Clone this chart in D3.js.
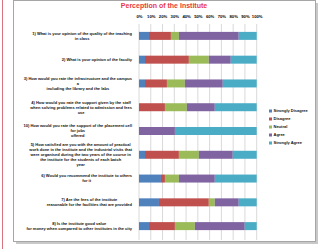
<!DOCTYPE html>
<html>
<head>
<meta charset="utf-8">
<script src="https://cdn.jsdelivr.net/npm/d3@7"></script>
<style>
  html, body { margin: 0; padding: 0; background: #fff; }
  svg { display: block; font-family: "Liberation Sans", Arial, sans-serif; }
</style>
</head>
<body>
<div id="chart"></div>
<script>
// questions (already wrapped the way the sheet shows them)
const questions = [
  ["1) What is your opinion of the quality of the teaching", "in class"],
  ["2) What is your opinion of the faculty"],
  ["3) How would you rate the infrastructure and the campus", "a", "including the library and the labs"],
  ["4) How would you rate the support given by the staff", "when solving problems related to admission and fees", "use"],
  ["10) How would you rate the support of the placement cell", "for jobs", "offered"],
  ["5) How satisfied are you with the amount of practical", "work done in the institute and the industrial visits that", "were organised during the two years of the course in", "the institute for the students of each batch", "year"],
  ["6) Would you recommend the institute to others", "for it"],
  ["7) Are the fees of the institute", "reasonable for the facilities that are provided"],
  ["8) Is the institute good value", "for money when compared to other institutes in the city"]
];

const levels = ["Strongly Disagree", "Disagree", "Neutral", "Agree", "Strongly Agree"];

// number of answers per question (59 students)
const stronglyDisagree = [5, 3, 3, 0, 0, 3, 11, 10, 5];
const disagree         = [11, 22, 11, 13, 0, 17, 2, 25, 13];
const neutral          = [4, 10, 9, 11, 0, 10, 7, 3, 10];
const agree            = [30, 11, 19, 14, 18, 17, 18, 12, 25];
const stronglyAgree    = [9, 13, 17, 21, 41, 12, 21, 9, 6];

const tickValues = [0, 0.1, 0.2, 0.3, 0.4, 0.5, 0.6, 0.7, 0.8, 0.9, 1];
const tickLabels = ["0%", "10%", "20%", "30%", "40%", "50%", "60%", "70%", "80%", "90%", "100%"];

const colors = ["#4F81BD", "#C0504D", "#9BBB59", "#8064A2", "#4BACC6"];

const width = 322, height = 249;

const rows = questions.map((q, i) => ({
  idx: i,
  "Strongly Disagree": stronglyDisagree[i],
  "Disagree": disagree[i],
  "Neutral": neutral[i],
  "Agree": agree[i],
  "Strongly Agree": stronglyAgree[i]
}));

const series = d3.stack()
  .keys(levels)
  .offset(d3.stackOffsetExpand)(rows);

const svg = d3.select("#chart")
  .append("svg")
  .attr("width", width)
  .attr("height", height);

// page line on the left
svg.append("line")
  .attr("x1", 2.5).attr("x2", 2.5)
  .attr("y1", 0).attr("y2", height)
  .attr("stroke", "#D9737D")
  .attr("stroke-width", 1);

// chart frame with shadow
svg.append("rect")
  .attr("x", 16).attr("y", 3)
  .attr("width", 302).attr("height", 241)
  .attr("fill", "#C8C8C8");
svg.append("rect")
  .attr("x", 13.5).attr("y", 0.5)
  .attr("width", 302).attr("height", 241)
  .attr("fill", "#fff")
  .attr("stroke", "#A6A6A6")
  .attr("stroke-width", 1);

const x = d3.scaleLinear().domain([0, 1]).range([139, 256.7]);
const y = d3.scaleBand()
  .domain(d3.range(questions.length))
  .range([24, 238])
  .paddingInner(0.664)
  .paddingOuter(0.332);

// gridlines
svg.append("g")
  .selectAll("line")
  .data(tickValues)
  .enter()
  .append("line")
  .attr("x1", d => x(d)).attr("x2", d => x(d))
  .attr("y1", 24).attr("y2", 240)
  .attr("stroke", "#D9D9D9")
  .attr("stroke-width", 1);

// top axis labels
const axis = svg.append("g")
  .attr("transform", "translate(0,18)")
  .call(d3.axisTop(x)
    .tickValues(tickValues)
    .tickFormat((d, i) => tickLabels[i])
    .tickSize(0)
    .tickPadding(0));
axis.select(".domain").remove();
axis.selectAll("text")
  .attr("font-size", 4.2)
  .attr("font-weight", "bold")
  .attr("fill", "#000")
  .attr("font-family", "Liberation Sans, Arial, sans-serif");

// bars
svg.append("g")
  .selectAll("g")
  .data(series)
  .enter()
  .append("g")
  .attr("fill", (d, i) => colors[i])
  .selectAll("rect")
  .data(d => d)
  .enter()
  .append("rect")
  .attr("x", d => x(d[0]))
  .attr("y", d => y(d.data.idx))
  .attr("width", d => x(d[1]) - x(d[0]))
  .attr("height", y.bandwidth());

// question labels, lines centred on the widest one
const lh = 5;
questions.forEach((lines, i) => {
  const cy = y(i) + y.bandwidth() / 2;
  const t = svg.append("text")
    .attr("font-size", 4)
    .attr("font-weight", "bold")
    .attr("fill", "#111")
    .attr("text-anchor", "middle");
  const spans = lines.map((s, k) => t.append("tspan")
    .attr("y", cy - (lines.length - 1) / 2 * lh + k * lh)
    .attr("dy", "0.35em")
    .text(s));
  const maxW = d3.max(spans, sp => sp.node().getComputedTextLength());
  spans.forEach(sp => sp.attr("x", 132 - maxW / 2));
});

// title
svg.append("text")
  .attr("x", 164).attr("y", 8)
  .attr("text-anchor", "middle")
  .attr("font-size", 7)
  .attr("font-weight", "bold")
  .attr("fill", "#E8393F")
  .text("Perception of the Institute");

// legend
const legend = svg.append("g")
  .selectAll("g")
  .data(levels)
  .enter()
  .append("g")
  .attr("transform", (d, i) => `translate(269,${111 + i * 8})`);

legend.append("rect")
  .attr("x", 0).attr("y", -1.5)
  .attr("width", 3).attr("height", 3)
  .attr("fill", (d, i) => colors[i]);

legend.append("text")
  .attr("x", 4.5)
  .attr("dy", "0.35em")
  .attr("font-size", 4)
  .attr("font-weight", "bold")
  .attr("fill", "#111")
  .text(d => d);
</script>
</body>
</html>
